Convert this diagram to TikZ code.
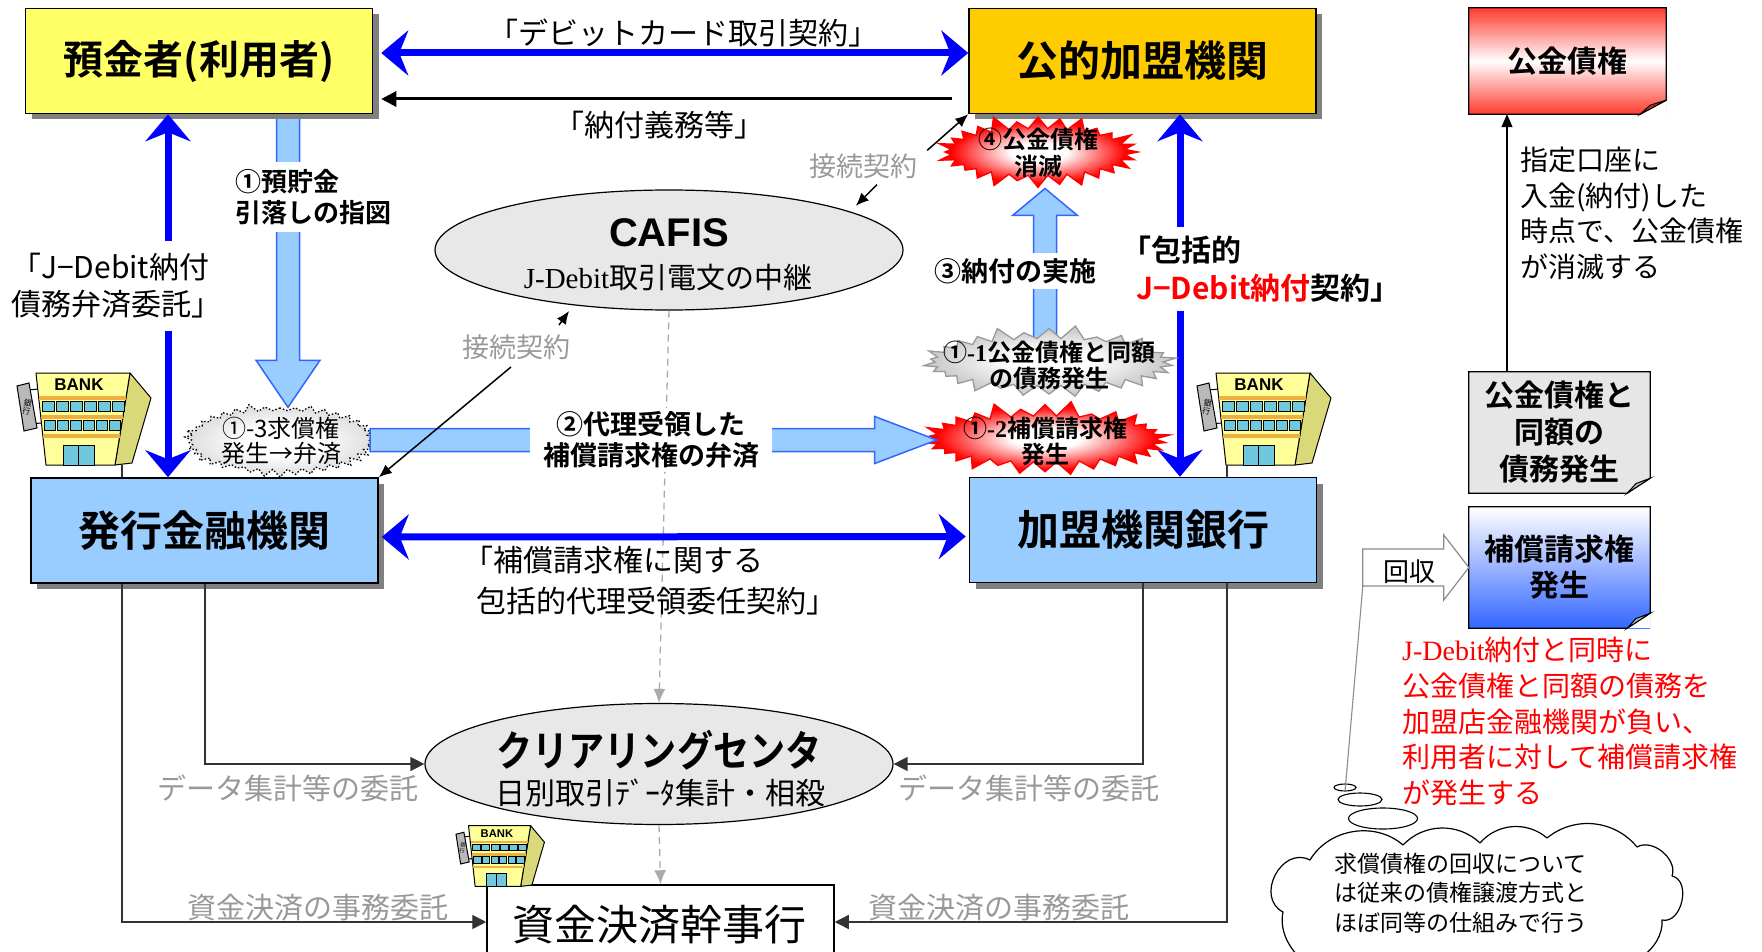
\documentclass[tikz,border=0pt]{standalone}
\usepackage{fontspec}
\usepackage{graphicx}
\setmainfont{Noto Sans CJK JP}[BoldFont={Noto Sans CJK JP Bold}]
\newfontfamily\lser{Liberation Serif}
\newfontfamily\lsans{Liberation Sans}
\usetikzlibrary{arrows.meta,shapes.geometric,shapes.symbols,shadows,calc}
\pgfdeclarelayer{back}
\pgfsetlayers{back,main}

\newcommand\fsz[2]{\fontsize{#1}{#2}\selectfont}

\definecolor{yel}{HTML}{FFFF66}
\definecolor{gold}{HTML}{FFCC00}
\definecolor{lblue}{HTML}{99CCFF}
\definecolor{pblue}{HTML}{0000FF}
\definecolor{edgeblue}{HTML}{3366FF}
\definecolor{ellgray}{HTML}{E8E8E8}
\definecolor{txtgray}{HTML}{999999}
\definecolor{arrowgray}{HTML}{AAAAAA}
\definecolor{redtop}{HTML}{FF3B2F}
\definecolor{foldred}{HTML}{C8361F}
\definecolor{ddgray}{HTML}{E6E6E6}
\definecolor{foldgray}{HTML}{B8B8B8}
\definecolor{hsblue}{HTML}{3366FF}
\definecolor{bankfront}{HTML}{FFFF99}
\definecolor{bankside}{HTML}{D9D97A}
\definecolor{bankwin}{HTML}{70C8DC}
\definecolor{bankorange}{HTML}{F0B040}
\definecolor{burstgrayc}{HTML}{C4C4C4}
\definecolor{puffgrayc}{HTML}{CFCFCF}

% radial fills for the event bursts: white core, coloured rim
\pgfdeclareradialshading{burstred}{\pgfpointorigin}{color(0bp)=(white); color(7bp)=(white); color(22bp)=(red); color(50bp)=(red)}
\pgfdeclareradialshading{burstgray}{\pgfpointorigin}{color(0bp)=(white); color(8bp)=(white); color(25bp)=(burstgrayc); color(50bp)=(burstgrayc)}
\pgfdeclareradialshading{puffgray}{\pgfpointorigin}{color(0bp)=(white); color(10bp)=(white); color(30bp)=(puffgrayc); color(50bp)=(puffgrayc)}

% note box with a folded lower-right corner
\newcommand\foldcorner[4]{%
  \fill[white] (#1.south east) -- ([yshift=#3pt]#1.south east) -- ([xshift=-#2pt]#1.south east) -- cycle;
  \draw[line width=1.2pt, line join=miter] (#1.north west) -- (#1.north east) -- ([yshift=#3pt]#1.south east)
    -- ([xshift=-#2pt]#1.south east) -- (#1.south west) -- cycle;
  \filldraw[fill=#4, line width=1pt] ([yshift=#3pt]#1.south east) -- ([xshift=-#2pt]#1.south east)
    -- ([xshift=-0.62*#2pt, yshift=0.64*#3pt]#1.south east) -- cycle;
}

\tikzset{
  bankicon/.pic={
    % hanging sign
    \draw[line width=1pt] (11,18) -- (22,17) (14,52) -- (24,51);
    \draw[fill=gray!55, line width=1pt] (0,14) -- (12,11) -- (20,56) -- (7,59) -- cycle;
    \node[font=\fsz{8}{8.5}, align=center, inner sep=0pt, rotate=-10, transform shape] at (10,35) {銀\\行};
    % side face
    \draw[fill=bankside, line width=1pt, line join=round] (113,1) -- (134,26) -- (115,91) -- (98,93) -- cycle;
    % front face
    \draw[fill=bankfront, line width=1pt, line join=round] (19,1) -- (113,1) -- (98,93) -- (29,93) -- cycle;
    % floor stripes
    \fill[bankorange] (22,24) rectangle (109,27.5);
    \fill[bankorange] (24,43) rectangle (106,46.5);
    \fill[bankorange] (26,62) rectangle (103,65.5);
    % windows
    \foreach \ry/\xa/\xb in {29/24/108, 48/26/104} {
      \foreach \k in {0,...,5} {
        \draw[fill=bankwin, line width=0.8pt] ({\xa+\k*(\xb-\xa)/6+1},\ry) rectangle ({\xa+(\k+1)*(\xb-\xa)/6-1},\ry+10);
      }
    }
    % door
    \draw[fill=bankwin, line width=1pt] (46,73) rectangle (77,93);
    \draw[line width=1pt] (61.5,73) -- (61.5,93);
    \node[font=\lsans\bfseries\fsz{17}{17}, inner sep=0pt, transform shape] at (62,13) {BANK};
    \coordinate (-b1) at (105,93);
    \coordinate (-b2) at (30,93);
  }
}

\begin{document}
\begin{tikzpicture}[x=1pt,y=-1pt,
  bigbox/.style={draw=black, line width=1.5pt, inner sep=0pt, minimum width=347pt, minimum height=105pt,
    drop shadow={shadow xshift=6pt, shadow yshift=-6pt, fill=black!50, opacity=1}, font=\bfseries\fsz{42}{50}},
  bluedbl/.style={draw=pblue, line width=7pt,
    {Stealth[length=27pt,width=45pt,inset=9pt]}-{Stealth[length=27pt,width=45pt,inset=9pt]}},
  blockarrow/.style={fill=lblue, draw=edgeblue, line width=1.5pt, line join=miter},
  relay/.style={ellipse, draw=black, line width=1.2pt, fill=ellgray, minimum width=468pt, minimum height=120pt, inner sep=0pt},
  grayarrow/.style={draw=arrowgray, line width=1.3pt, dash pattern=on 7pt off 5pt, -{Latex[length=14pt,width=12pt]}},
  ktarr/.style={draw=black, line width=1.5pt, -{Latex[length=13pt,width=11pt]}},
  conn/.style={draw=black!80, line width=1.4pt, -{Triangle[length=14pt,width=14pt]}},
  graylbl/.style={text=txtgray, font=\fsz{29}{29}, inner sep=0pt},
  burst/.style={starburst, inner sep=0pt, line width=1.3pt, starburst points=28},
  redburst/.style={burst, draw=red, shade, shading=burstred, starburst point height=16pt},
  grayburst/.style={burst, draw=black!40, shade, shading=burstgray, starburst point height=14pt},
  whitelbl/.style={fill=white, inner sep=0pt},
  note/.style={draw=none, inner sep=0pt, minimum width=181pt, minimum height=121pt, align=center, font=\bfseries\fsz{30}{37}},
  bubble/.style={ellipse, draw=black, line width=1.1pt, fill=white, inner sep=0pt},
]
\useasboundingbox (0,0) rectangle (1762,952);
\clip (0,0) rectangle (1762,952);

% ---- parties ----
\node[bigbox, fill=yel, font=\bfseries\fsz{40}{48}] (dep) at (199,61) {預金者(利用者)};
\node[bigbox, fill=gold] (pub) at (1142.5,61) {公的加盟機関};
\node[bigbox, fill=lblue] (iss) at (204.5,530.5) {発行金融機関};
\node[bigbox, fill=lblue] (mbk) at (1143,530) {加盟機関銀行};

% ---- relay centres ----
\node[relay] (cafis) at (669,250) {};
\node[font=\lsans\bfseries\fsz{40}{40}, inner sep=0pt] (cafisA) at (669,233) {CAFIS};
\node[font=\fsz{29}{29}, inner sep=0pt] (cafisB) at (668,277) {{\lser J-Debit}取引電文の中継};
\node[relay, minimum height=121pt] (clr) at (659,764) {};
\node[font=\bfseries\fsz{42}{42}, inner sep=0pt] (clrA) at (659,750) {\scalebox{0.86}[1]{クリアリングセンタ}};
\node[font=\fsz{30}{30}, inner sep=0pt] (clrB) at (660,793) {日別取引ﾃﾞｰﾀ集計・相殺};

\node[draw=black, line width=1.5pt, fill=white, minimum width=347pt, minimum height=90pt, inner sep=0pt] (fund) at (660.5,930) {};
\node[font=\fsz{42}{42}, inner sep=0pt] (fundT) at (659,925) {資金決済幹事行};

\draw[grayarrow] (cafis.south) -- (clr.north);
\draw[grayarrow] (clr.south) -- (fund.north);

% ---- contract arrows ----
\coordinate (xA) at (168,0);
\coordinate (xB) at (1180,0);
\draw[bluedbl, shorten <=8pt] ([yshift=8pt]dep.east) -- ([yshift=8pt]pub.west);
\draw[bluedbl] (iss.north -| xA) -- (dep.south -| xA);
\draw[bluedbl] (pub.south -| xB) -- (mbk.north -| xB);
\draw[bluedbl, shorten <=3pt, shorten >=3pt] ([yshift=-6.5pt]iss.east) -- ([yshift=-6.5pt]mbk.west);
\draw[line width=3pt, -{Triangle[length=15pt,width=15pt]}, shorten >=8pt]
  ([xshift=-16pt,yshift=-38pt]pub.west) -- ([yshift=-38pt]dep.east);

\node[font=\fsz{30}{30}, inner sep=0pt] (lblF) at (683,33) {「デビットカード取引契約」};
\node[font=\fsz{30}{30}, inner sep=0pt] (lblG) at (659,125) {「納付義務等」};

% ---- event bursts ----
\node[redburst, minimum width=207pt, minimum height=79pt] (s4) at (1038,152) {};
\node[font=\bfseries\fsz{24}{27}, align=center, inner sep=0pt] (s4t) at (1038,153) {④公金債権\\消滅};
\node[grayburst, starburst points=30, minimum width=256pt, minimum height=75pt] (s11) at (1049,362) {};
\node[font=\bfseries\fsz{24}{26}, align=center, inner sep=0pt] (s11t) at (1049,365) {①{\lser\bfseries -1}公金債権と同額\\の債務発生};
\node[redburst, starburst points=30, minimum width=252pt, minimum height=78pt] (s12) at (1045,439) {};
\node[font=\bfseries\fsz{24}{26}, align=center, inner sep=0pt] (s12t) at (1045,441) {①{\lser\bfseries -2}補償請求権\\発生};
\node[burst, draw=black, dash pattern=on 1.5pt off 2pt, starburst points=38, starburst point height=8pt, random starburst=3,
  shade, shading=puffgray, minimum width=193pt, minimum height=75pt] (c13) at (280,440) {};
\node[font=\fsz{24}{25}, align=center, inner sep=0pt] (c13t) at (281,441) {①-3求償権\\発生→弁済};

% ---- flow block arrows ----
\coordinate (xC) at (288,0);
\coordinate (xD) at (1045,0);
\coordinate (yE) at (0,440);
\begin{pgfonlayer}{back}
\draw[blockarrow] let \p1=(dep.center -| xC), \p2=(c13.north -| xC) in
  (\x1-11.5pt,\y1) -- (\x1-11.5pt,\y2+47pt) -- (\x1-32pt,\y2+47pt) -- (\x2,\y2)
  -- (\x1+32pt,\y2+47pt) -- (\x1+11.5pt,\y2+47pt) -- (\x1+11.5pt,\y1) -- cycle;
\draw[blockarrow] let \p1=(s11.center -| xD), \p2=(s4.south -| xD) in
  (\x1-11.5pt,\y1) -- (\x1-11.5pt,\y2-27pt) -- (\x1-32.5pt,\y2-27pt) -- (\x2,\y2)
  -- (\x1+32.5pt,\y2-27pt) -- (\x1+11.5pt,\y2-27pt) -- (\x1+11.5pt,\y1) -- cycle;
\end{pgfonlayer}
\draw[blockarrow] let \p1=(c13.east |- yE), \p2=(s12.west |- yE) in
  (\x1,\y1+11.5pt) -- (\x2-58pt,\y1+11.5pt) -- (\x2-58pt,\y1+23.5pt) -- (\x2+4pt,\y1)
  -- (\x2-58pt,\y1-23.5pt) -- (\x2-58pt,\y1-11.5pt) -- (\x1,\y1-11.5pt) -- cycle;

% ---- labels on the arrows ----
\node[whitelbl, font=\fsz{30}{37}, align=left, anchor=west, inner ysep=12pt] (lblA) at (11,286) {「J−Debit納付\\債務弁済委託」};
\node[whitelbl, font=\bfseries\fsz{26}{31}, align=left, anchor=west, inner xsep=2pt, inner ysep=7pt] (lblB) at (233,197) {①預貯金\\引落しの指図};
\node[whitelbl, font=\bfseries\fsz{27}{31}, inner xsep=3pt, inner ysep=5pt] (lblC) at (1015,271) {③納付の実施};
\node[whitelbl, font=\bfseries\fsz{27}{31}, align=center, inner xsep=13pt, inner ysep=4pt] (lblD) at (651,440) {②代理受領した\\補償請求権の弁済};
\node[whitelbl, font=\bfseries\fsz{30}{38}, align=left, anchor=west, inner ysep=9pt] (lblE) at (1121,269) {「包括的\\\hspace*{15pt}{\color{red}J−Debit納付}契約」};
\node[font=\fsz{30}{41}, align=left, anchor=west, inner sep=0pt] (lblH) at (463,581) {「補償請求権に関する\\\hspace*{13pt}包括的代理受領委任契約」};

% ---- connection contracts ----
\node[graylbl, font=\fsz{27}{27}] (cA) at (863,166) {接続契約};
\node[graylbl, font=\fsz{27}{27}] (cB) at (516,347) {接続契約};
\draw[ktarr] ([shift={(10,-3)}]cA.north east) -- (pub.south west);
\draw[ktarr, shorten >=8pt] ([shift={(14,6)}]cA.south) -- (cafis.12);
\draw[ktarr, shorten >=7pt] ([shift={(43,-22)}]cB.center) -- (cafis.210);
\draw[ktarr] ([shift={(-5,20)}]cB.center) -- (iss.north east);

% ---- banks and delegation lines ----
\pic (bankL) at (17,372) {bankicon};
\pic (bankR) at (1197,372) {bankicon};
\pic[scale=0.66] (bankS) at (456,825) {bankicon};
\coordinate (xL2) at (205,0);
\draw[black!80, line width=1.4pt] (bankL-b1) -- (iss.north -| bankL-b1);
\draw[black!80, line width=1.4pt] (bankR-b2) -- (mbk.north -| bankR-b2);
\draw[conn] (iss.south -| bankL-b1) |- ([yshift=8pt]fund.west);
\draw[conn] (iss.south -| xL2) |- (clr.west);
\draw[conn] (mbk.south) |- (clr.east);
\draw[conn] (mbk.south -| bankR-b2) |- ([yshift=8pt]fund.east);
\node[graylbl] (dl1) at (288,788) {データ集計等の委託};
\node[graylbl] (dl2) at (1029,788) {データ集計等の委託};
\node[graylbl] (fl1) at (318,908) {資金決済の事務委託};
\node[graylbl] (fl2) at (999,908) {資金決済の事務委託};

% ---- side notes ----
\node[draw=none, inner sep=0pt, minimum width=197pt, minimum height=106pt,
  top color=redtop, bottom color=redtop, middle color=white, font=\bfseries\fsz{30}{30}] (kk) at (1567.5,61) {公金債権};
\foldcorner{kk}{26}{14}{foldred}
\node[note, fill=ddgray] (dd) at (1559.5,432.5) {公金債権と\\同額の\\債務発生};
\foldcorner{dd}{23}{15}{foldgray}
\node[note, top color=white, bottom color=hsblue, font=\bfseries\fsz{30}{36}] (hs) at (1559.5,567.5) {補償請求権\\発生};
\foldcorner{hs}{23}{15}{foldgray}
\coordinate (xK) at (1507,0);
\draw[line width=1.2pt, -{Triangle[length=13pt,width=11pt]}] (dd.north -| xK) -- (kk.south -| xK);

\node[font=\fsz{28}{35.7}, align=left, anchor=west, inner sep=0pt] (noteK) at (1520,213.5)
  {指定口座に\\入金(納付)した\\時点で、公金債権\\が消滅する};
\node[text=red, font=\fsz{28}{35.7}, align=left, anchor=west, inner sep=0pt] (noteH) at (1402,721.5)
  {{\lser J-Debit}納付と同時に\\公金債権と同額の債務を\\加盟店金融機関が負い、\\利用者に対して補償請求権\\が発生する};

\draw[draw=black!45, fill=white, line width=1.2pt] let \p1=(hs.west) in
  (\x1-106pt,\y1+18.5pt) -- (\x1-25pt,\y1+18.5pt) -- (\x1-25pt,\y1+32.5pt) -- (\x1,\y1)
  -- (\x1-25pt,\y1-32.5pt) -- (\x1-25pt,\y1-18.5pt) -- (\x1-106pt,\y1-18.5pt) coordinate (ktail) -- cycle;
\node[font=\fsz{26}{26}, inner sep=0pt] (kaishu) at (1409,572) {回収};

% thought cloud, one puff at a time
\draw[line width=1.2pt, fill=white, line join=round]
  (1283,912) to[bend left=90, looseness=1.4] (1310,860)
  to[bend left=50] (1403,845)
  to[bend left=45] (1480,843)
  to[bend left=45] (1547,838)
  to[bend left=45] (1637,847)
  to[bend left=70] (1672,876)
  to[bend left=90, looseness=1.15] (1662,920)
  to[bend left=60] (1600,962)
  to[bend left=50] (1480,978)
  to[bend left=50] (1350,972)
  to[bend left=60] (1283,912) -- cycle;
\node[bubble, minimum width=69pt, minimum height=21pt] (b3) at (1383,818.5) {};
\node[bubble, minimum width=44pt, minimum height=13pt] (b2) at (1360,799.5) {};
\node[bubble, minimum width=22pt, minimum height=7pt] (b1) at (1345,787.5) {};
\draw[black!45, line width=1.1pt] (ktail) -- (b1.south);
\node[font=\fsz{23}{29.5}, align=left, anchor=west, inner sep=0pt] (cldT) at (1334,893)
  {求償債権の回収について\\は従来の債権譲渡方式と\\ほぼ同等の仕組みで行う};
\end{tikzpicture}
\end{document}
